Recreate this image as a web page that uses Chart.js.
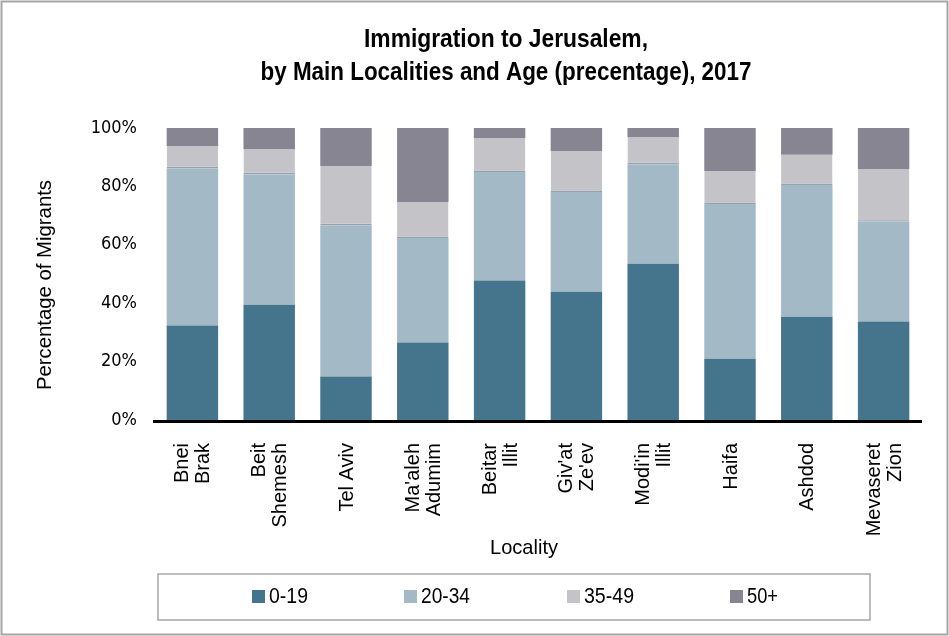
<!DOCTYPE html>
<html>
<head>
<meta charset="utf-8">
<script src="https://cdn.jsdelivr.net/npm/chart.js@4"></script>
<style>
  html, body { margin: 0; padding: 0; background: #fff; }
  #wrap { width: 949px; height: 636px; }
</style>
</head>
<body>
<div id="wrap"><canvas id="c" width="949" height="636"></canvas></div>
<script>
// Localities (two-line names are split into arrays)
const localities = [
  ['Bnei', 'Brak'], ['Beit', 'Shemesh'], 'Tel Aviv', ["Ma'aleh", 'Adumim'],
  ['Beitar', 'Illit'], ["Giv'at", "Ze'ev"], ["Modi'in", 'Illit'], 'Haifa',
  'Ashdod', ['Mevaseret', 'Zion']
];

// Share of migrants by age group (%)
const age0to19  = [32.4, 39.5, 14.9, 26.5, 47.8, 43.9, 53.5, 21.0, 35.4, 33.7];
const age20to34 = [53.8, 44.7, 51.8, 35.8, 37.1, 34.2, 34.1, 53.0, 45.1, 34.2];
const age35to49 = [ 7.6,  8.6, 20.3, 12.4, 11.7, 14.0,  9.3, 11.3, 10.3, 18.1];
const age50plus = [ 6.2,  7.2, 13.0, 25.3,  3.4,  7.9,  3.1, 14.7,  9.2, 14.0];

const yTicks = [0, 20, 40, 60, 80, 100];

const NARROW = "'Liberation Sans Narrow', 'DejaVu Sans Condensed', 'Arial Narrow', sans-serif";
const REGULAR = "'Liberation Sans', Arial, sans-serif";

const titleLines = ['Immigration to Jerusalem,', 'by Main Localities and Age (precentage), 2017'];
const xTitle = 'Locality';
const yTitle = 'Percentage of Migrants';

// draw text squeezed horizontally to a given width
function narrowText(ctx, text, x, y, width) {
  const w = ctx.measureText(text).width;
  const sx = Math.min(1, width / w);
  ctx.save();
  ctx.translate(x, y);
  ctx.scale(sx, 1);
  ctx.fillText(text, 0, 0);
  ctx.restore();
}

// Frame, title, axis line, category labels, axis titles and boxed legend
const decorations = {
  id: 'decorations',
  beforeDraw(chart) {
    const ctx = chart.ctx;
    ctx.save();
    ctx.fillStyle = '#ffffff';
    ctx.fillRect(0, 0, chart.width, chart.height);
    ctx.strokeStyle = '#a6a6a6';
    ctx.lineWidth = 2;
    ctx.strokeRect(1.5, 1.5, chart.width - 3, chart.height - 3);
    ctx.restore();
  },
  afterDatasetsDraw(chart) {
    const ctx = chart.ctx;
    const y0 = chart.scales.y.getPixelForValue(0);
    const area = chart.chartArea;
    ctx.save();
    ctx.strokeStyle = '#000';
    ctx.lineWidth = 3;
    ctx.beginPath();
    ctx.moveTo(area.left - 1, y0 + 1.5);
    ctx.lineTo(area.right, y0 + 1.5);
    ctx.stroke();
    ctx.restore();
  },
  afterDraw(chart) {
    const ctx = chart.ctx;
    const xScale = chart.scales.x;
    const y0 = chart.scales.y.getPixelForValue(0);
    ctx.save();
    ctx.fillStyle = '#000';

    // category labels, rotated, lines centred on each bar
    ctx.font = '20px ' + REGULAR;
    ctx.textAlign = 'right';
    ctx.textBaseline = 'middle';
    const lineGap = 21;
    chart.data.labels.forEach((lab, i) => {
      const lines = Array.isArray(lab) ? lab : [lab];
      const cx = xScale.getPixelForTick(i);
      lines.forEach((t, k) => {
        const off = (k - (lines.length - 1) / 2) * lineGap;
        ctx.save();
        ctx.translate(cx + off + 1, y0 + 23);
        ctx.rotate(-Math.PI / 2);
        ctx.fillText(t, 0, 0);
        ctx.restore();
      });
    });

    ctx.textAlign = 'center';
    // title
    ctx.font = 'bold 25px ' + REGULAR;
    narrowText(ctx, titleLines[0], 506, 40, 284);
    narrowText(ctx, titleLines[1], 506, 73, 491);

    // axis titles
    ctx.font = '21px ' + REGULAR;
    narrowText(ctx, xTitle, 524, 548, 68);
    ctx.save();
    ctx.translate(45, 285);
    ctx.rotate(-Math.PI / 2);
    narrowText(ctx, yTitle, 0, 0, 210);
    ctx.restore();

    // legend box
    ctx.strokeStyle = '#a6a6a6';
    ctx.lineWidth = 1.5;
    ctx.strokeRect(158, 574, 712, 46);
    const xs = [252, 404, 567, 730];
    const widths = [39, 49, 50, 31];
    ctx.font = '22px ' + REGULAR;
    ctx.textAlign = 'left';
    chart.data.datasets.forEach((ds, i) => {
      ctx.fillStyle = ds.backgroundColor;
      ctx.fillRect(xs[i], 590, 13, 13);
      ctx.fillStyle = '#000';
      narrowText(ctx, ds.label, xs[i] + 17, 597, widths[i]);
    });
    ctx.restore();
  }
};

const data = {
  labels: localities,
  datasets: [
    { label: '0-19',  data: age0to19,  backgroundColor: '#44758c' },
    { label: '20-34', data: age20to34, backgroundColor: '#a3bac6' },
    { label: '35-49', data: age35to49, backgroundColor: '#c4c3c8',
      borderColor: '#98a2ae', borderWidth: { bottom: 1.5, top: 0, left: 0, right: 0 }, borderSkipped: false },
    { label: '50+',   data: age50plus, backgroundColor: '#878591' }
  ]
};

new Chart(document.getElementById('c'), {
  type: 'bar',
  data,
  plugins: [decorations],
  options: {
    responsive: false,
    animation: false,
    layout: { padding: { top: 128, left: 0, right: 27, bottom: 76 } },
    datasets: { bar: { barPercentage: 0.67, categoryPercentage: 1 } },
    plugins: {
      legend: { display: false },
      title: { display: false },
      tooltip: { enabled: false }
    },
    scales: {
      x: {
        stacked: true,
        grid: { display: false, drawTicks: false },
        border: { display: false },
        ticks: { display: false },
        afterFit(scale) { scale.height = 140; }
      },
      y: {
        stacked: true,
        min: 0, max: 100,
        afterBuildTicks(scale) { scale.ticks = yTicks.map(v => ({ value: v })); },
        grid: { display: false, drawTicks: false },
        border: { display: false },
        ticks: {
          color: '#000',
          font: { family: NARROW, size: 18 },
          padding: 17,
          callback: v => v + '%'
        },
        afterFit(scale) { scale.width = 154; }
      }
    }
  }
});
</script>
</body>
</html>
